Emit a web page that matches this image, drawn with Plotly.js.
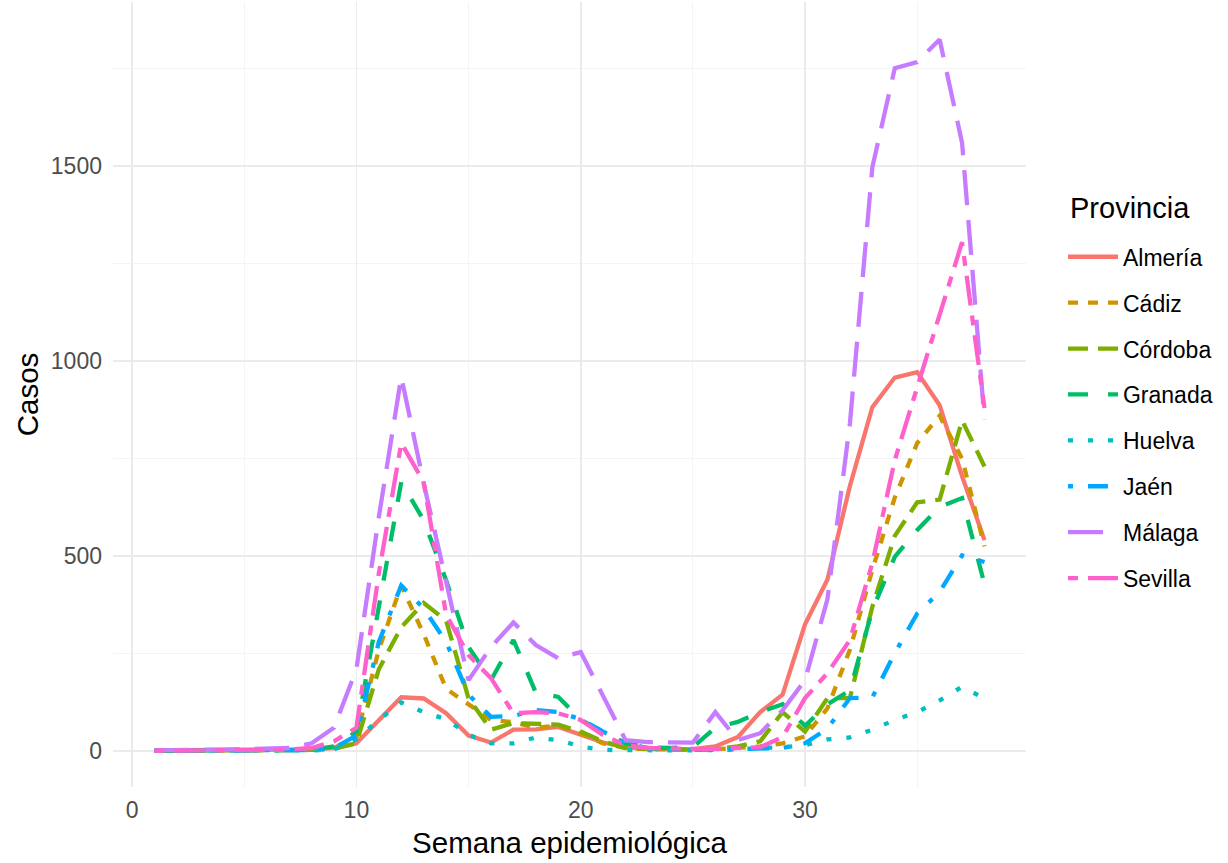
<!DOCTYPE html>
<html>
<head>
<meta charset="utf-8">
<script src="https://cdn.plot.ly/plotly-3.0.1.min.js"></script>
<style>
  html, body { margin: 0; padding: 0; background: #ffffff; }
  #chart { width: 1228px; height: 863px; }
</style>
</head>
<body>
<div id="chart"></div>
<script>
const weeks = [1,2,3,4,5,6,7,8,9,10,11,12,13,14,15,16,17,18,19,20,21,22,23,24,25,26,27,28,29,30,31,32,33,34,35,36,37,38];

const provincias = ["Almería","Cádiz","Córdoba","Granada","Huelva","Jaén","Málaga","Sevilla"];
const legendTitle = "Provincia";

const almeria = [2,2,2,3,3,3,4,5,8,20,80,138,135,97,40,22,55,56,62,42,22,10,6,5,5,12,36,100,145,325,440,680,882,958,972,887,705,541];
const cadiz   = [1,1,1,2,2,2,3,4,8,35,260,425,300,160,120,80,74,60,66,45,20,8,5,4,4,5,8,12,20,38,110,260,465,650,790,860,750,525];
const cordoba = [1,1,1,1,2,2,2,3,6,20,210,318,380,335,135,55,72,70,68,50,25,8,5,4,4,6,12,25,100,50,136,136,370,552,638,645,848,730];
const granada = [1,1,1,1,1,2,2,3,12,50,370,690,592,438,267,182,285,150,139,80,50,20,10,8,10,60,75,100,120,65,120,156,362,498,567,626,649,428];
const huelva  = [1,1,1,1,1,1,2,2,4,30,80,125,100,82,42,20,20,35,28,12,3,2,2,2,2,3,4,8,10,15,30,35,55,80,100,130,165,135];
const jaen    = [1,1,1,1,1,2,2,3,8,40,280,425,366,280,145,88,90,105,100,82,50,20,8,5,4,4,5,5,8,20,58,136,138,251,353,408,502,485];
const malaga  = [2,2,3,4,5,6,8,20,60,210,600,960,687,435,182,267,330,272,238,254,138,28,23,23,22,100,28,46,105,182,390,840,1497,1751,1767,1825,1560,850];
const sevilla = [1,1,1,2,2,3,4,8,25,60,456,790,690,350,246,187,97,100,97,80,41,15,8,6,6,6,8,10,36,136,200,285,482,746,933,1123,1305,880];

const seriesValues = [almeria, cadiz, cordoba, granada, huelva, jaen, malaga, sevilla];

const xTicks = [0,10,20,30];
const yTicks = [0,500,1000,1500];

const colors = ["#F8766D","#CD9600","#7CAE00","#00BE67","#00BFC4","#00A9FF","#C77CFF","#FF61CC"];
const dashes = ["solid","10px,10px","20px,10px","20px,20px","5px,15px","5px,15px,20px,15px","35px,15px","10px,10px,30px,10px"];

const traces = provincias.map((name, i) => ({
  type: "scatter",
  mode: "lines",
  name: name,
  legendgroup: name,
  x: weeks,
  y: seriesValues[i],
  line: { color: colors[i], width: 4.3, dash: dashes[i] },
  hoverinfo: "x+y+name"
}));

const layout = {
  width: 1228,
  height: 863,
  margin: { l: 113, r: 202, t: 2, b: 76 },
  paper_bgcolor: "#ffffff",
  plot_bgcolor: "#ffffff",
  font: { family: "Liberation Sans, Arial, sans-serif", color: "#000000" },
  xaxis: {
    range: [-0.85, 39.85],
    tickmode: "array",
    tickvals: xTicks,
    ticktext: xTicks.map(String),
    showgrid: true,
    gridcolor: "#EBEBEB",
    gridwidth: 1.6,
    zeroline: false,
    showline: false,
    ticks: "",
    ticklabelstandoff: 7,
    tickfont: { size: 23, color: "#4D4D4D" },
    minor: { tickvals: [5,15,25,35], showgrid: true, gridcolor: "#F4F4F4", gridwidth: 1.2 },
    title: { text: "Semana epidemiológica", font: { size: 29.5, color: "#000000" }, standoff: 10 }
  },
  yaxis: {
    range: [-92, 1921],
    tickmode: "array",
    tickvals: yTicks,
    ticktext: yTicks.map(String),
    showgrid: true,
    gridcolor: "#EBEBEB",
    gridwidth: 1.6,
    zeroline: false,
    showline: false,
    ticks: "",
    ticklabelstandoff: 10,
    tickfont: { size: 23, color: "#4D4D4D" },
    minor: { tickvals: [250,750,1250,1750], showgrid: true, gridcolor: "#F4F4F4", gridwidth: 1.2 },
    title: { text: "Casos", font: { size: 29.5, color: "#000000" }, standoff: 3 }
  },
  showlegend: true,
  legend: {
    x: 1.0405,
    y: 0.7028,
    xanchor: "left",
    yanchor: "top",
    bgcolor: "rgba(0,0,0,0)",
    font: { size: 23, color: "#000000" },
    tracegroupgap: 13,
    itemwidth: 50
  },
  annotations: [{
    text: legendTitle,
    xref: "paper", yref: "paper",
    x: 1.046, y: 0.7376,
    xanchor: "left", yanchor: "middle",
    showarrow: false,
    font: { size: 29, color: "#000000" }
  }]
};

Plotly.newPlot("chart", traces, layout, { displayModeBar: false, staticPlot: true });
</script>
</body>
</html>
